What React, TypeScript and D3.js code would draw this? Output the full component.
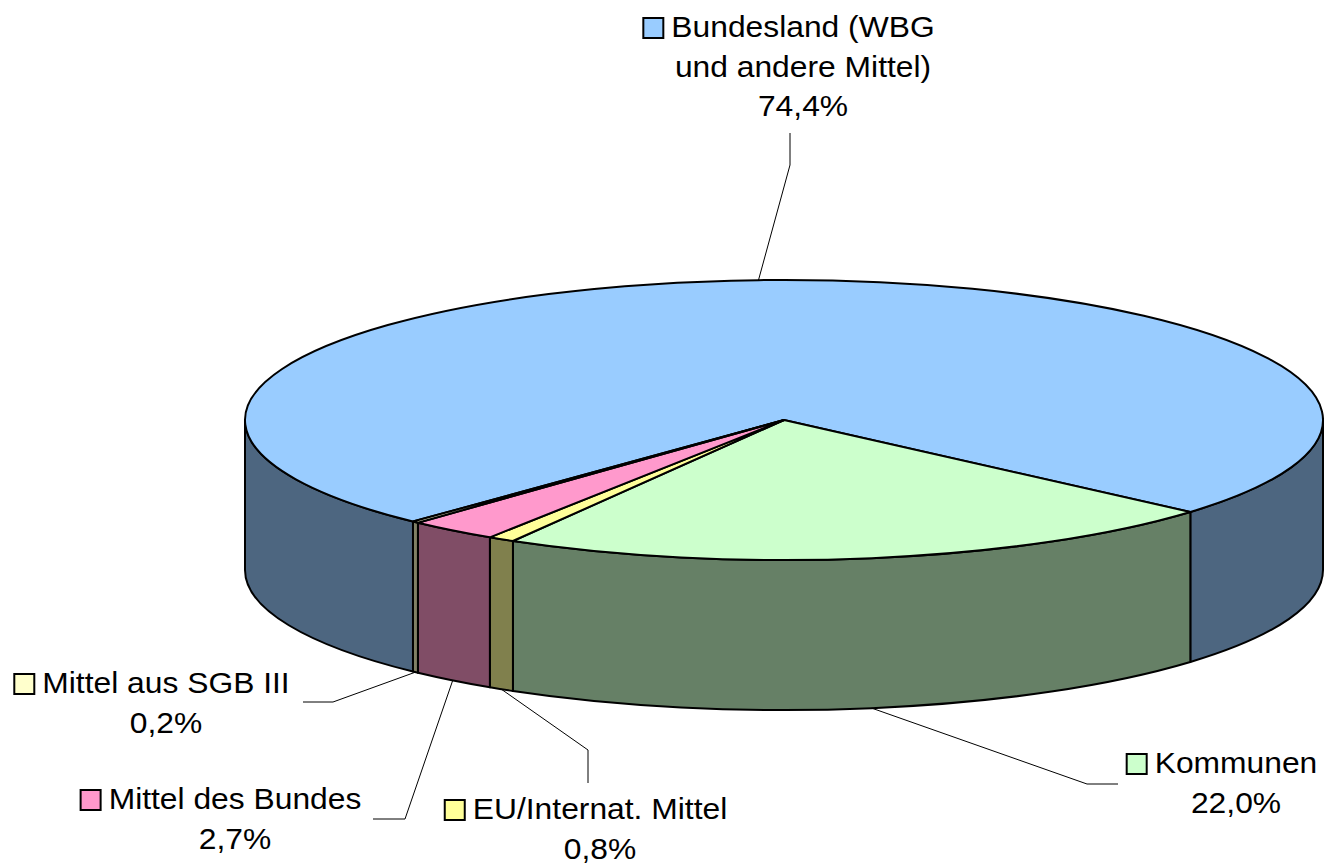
import React from "react";
import * as d3 from "d3";

const categories = ["Bundesland", "Kommunen", "EU/Internat. Mittel", "Mittel des Bundes", "Mittel aus SGB III"];
const labelLines = [["Bundesland (WBG", "und andere Mittel)"], ["Kommunen"], ["EU/Internat. Mittel"], ["Mittel des Bundes"], ["Mittel aus SGB III"]];
const values = [74.4, 22.0, 0.8, 2.7, 0.2];
const topColors = ["#99CCFF", "#CCFFCC", "#FFFF99", "#FF99CC", "#FFFFCC"];

// layout
const W = 1324, H = 867;
const CX = 784, CY = 420, RX = 539, RY = 140, DEPTH = 150;
const START_DEG = 223.5;
const FONT_SIZE = 30, SCALE_X = 1.06, LINE_H = 39.5;
const FONT = "Liberation Sans, Arial, sans-serif";
const labelLayout = [
  { cx: 803, y: 37, elbow: [790, 165], end: [790, 133] },
  { cx: 1236, y: 773, elbow: [1087, 784], end: [1118, 784] },
  { cx: 600, y: 819, elbow: [588, 750], end: [588, 783] },
  { cx: 235, y: 809, elbow: [405, 819], end: [373, 819] },
  { cx: 166, y: 693, elbow: [333, 702], end: [303, 702] },
];

const fmt = (v: number) => v.toFixed(1).replace(".", ",") + "%";

function measure(text: string): number {
  const c = document.createElement("canvas").getContext("2d");
  if (!c) return text.length * 15;
  c.font = `${FONT_SIZE}px ${FONT}`;
  return c.measureText(text).width * SCALE_X;
}

const pt = (a: number, dy = 0): [number, number] => [CX + RX * Math.cos(a), CY + dy + RY * Math.sin(a)];

export default function App() {
  const pie = d3
    .pie<number>()
    .sort(null)
    .value((d) => d)
    .startAngle((START_DEG * Math.PI) / 180)
    .endAngle(((START_DEG + 360) * Math.PI) / 180);
  const arcs = pie(values).map((a, i) => ({
    i,
    s: a.startAngle - Math.PI / 2, // screen angle
    e: a.endAngle - Math.PI / 2,
  }));

  const sideColor = (c: string) => {
    const r = d3.rgb(c);
    return d3.rgb(r.r * 0.5, r.g * 0.5, r.b * 0.5).formatHex();
  };

  const walls: { d: string; fill: string; key: string }[] = [];
  arcs.forEach((a) => {
    for (let k = -1; k <= 2; k++) {
      const lo = Math.max(a.s, k * 2 * Math.PI);
      const hi = Math.min(a.e, k * 2 * Math.PI + Math.PI);
      if (hi > lo) {
        const p1 = pt(lo), p2 = pt(hi), p3 = pt(hi, DEPTH), p4 = pt(lo, DEPTH);
        const d = `M${p1[0]},${p1[1]} A${RX},${RY} 0 0 1 ${p2[0]},${p2[1]} L${p3[0]},${p3[1]} A${RX},${RY} 0 0 0 ${p4[0]},${p4[1]} Z`;
        walls.push({ d, fill: sideColor(topColors[a.i]), key: `w${a.i}_${k}` });
      }
    }
  });

  const tops = arcs.map((a) => {
    const p1 = pt(a.s), p2 = pt(a.e);
    const large = a.e - a.s > Math.PI ? 1 : 0;
    return {
      d: `M${CX},${CY} L${p1[0]},${p1[1]} A${RX},${RY} 0 ${large} 1 ${p2[0]},${p2[1]} Z`,
      fill: topColors[a.i],
    };
  });

  const leaders = arcs.map((a) => {
    const m = (a.s + a.e) / 2;
    const p = Math.sin(m) > 0 ? pt(m, DEPTH) : pt(m);
    const L = labelLayout[a.i];
    return `M${p[0]},${p[1]} L${L.elbow[0]},${L.elbow[1]} L${L.end[0]},${L.end[1]}`;
  });

  return (
    <svg width={W} height={H} style={{ position: "absolute", left: 0, top: 0, background: "#fff" }}>
      {walls.map((w) => (
        <path key={w.key} d={w.d} fill={w.fill} stroke="#000" strokeWidth={2} strokeLinejoin="round" />
      ))}
      {tops.map((t, i) => (
        <path key={"t" + i} d={t.d} fill={t.fill} stroke="#000" strokeWidth={2} strokeLinejoin="round" />
      ))}
      {leaders.map((d, i) => (
        <path key={"l" + i} d={d} fill="none" stroke="#000" strokeWidth={1} />
      ))}
      {categories.map((c, i) => {
        const L = labelLayout[i];
        const lines = [...labelLines[i], fmt(values[i])];
        const w0 = measure(lines[0]);
        const boxX = L.cx - w0 / 2 - 28;
        return (
          <g key={"lab" + i} fontFamily={FONT} fontSize={FONT_SIZE} fill="#000">
            <rect x={boxX} y={L.y - 19} width={20} height={20} fill={topColors[i]} stroke="#000" strokeWidth={2} />
            {lines.map((t, j) => (
              <text
                key={j}
                transform={`translate(${L.cx},${L.y + j * LINE_H}) scale(${SCALE_X},1)`}
                textAnchor="middle"
              >
                {t}
              </text>
            ))}
          </g>
        );
      })}
    </svg>
  );
}
